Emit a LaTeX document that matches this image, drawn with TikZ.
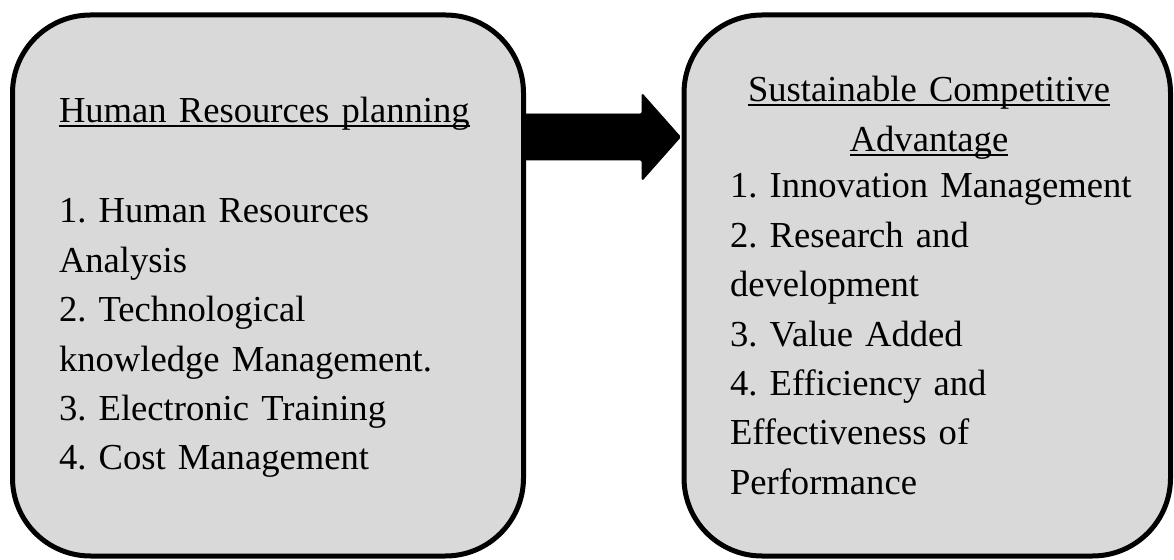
\documentclass[tikz,border=0pt]{standalone}
\usepackage{fontspec}
\setmainfont{Liberation Serif}
\usetikzlibrary{calc}
\definecolor{panelgray}{HTML}{D9D9D9}
\newsavebox\myulbox
\newcommand\myul[1]{\leavevmode\hbox{\sbox\myulbox{#1}\rlap{\rule[-4.5pt]{\wd\myulbox}{2.2pt}}\usebox\myulbox}}
\tikzset{
  panel/.style={draw=black, line width=5pt, fill=panelgray, rounded corners=78pt, outer sep=0pt, inner sep=0pt},
  txt/.style={font=\fontsize{36.6}{49.4}\selectfont\frenchspacing, inner sep=0pt, outer sep=0pt, align=left, text width=470pt},
  bigarrow/.style={fill=black, draw=black, line width=0.8pt, rounded corners=1.5pt}
}
\begin{document}
\begin{tikzpicture}[x=1pt,y=1pt]
\useasboundingbox (0,0) rectangle (1174,559);
\node[panel, minimum width=511pt, minimum height=541pt] (L) at (268,273.5) {};
\node[panel, minimum width=486.5pt, minimum height=541pt] (R) at (927.25,273.5) {};
% left texts
\node[txt, anchor=base west] (lh) at (59,436) {\myul{Human Resources planning}};
\node[txt, anchor=base west] (li) at (59,336) {1. Human Resources\\Analysis\\2. Technological\\knowledge Management.\\3. Electronic Training\\4. Cost Management};
% right texts
\node[txt, anchor=base, align=center, text width=480pt] (rh) at (929,457) {\myul{Sustainable Competitive}\\\myul{Advantage}};
\node[txt, anchor=base west, text width=440pt] (ri) at (730,361) {1. Innovation Management\\2. Research and\\development\\3. Value Added\\4. Efficiency and\\Effectiveness of\\Performance};
% arrow
\coordinate (ay) at (0,422);
\coordinate (s) at (L.east |- ay);
\coordinate (t) at (R.west |- ay);
\fill[bigarrow] ($(s)+(0,23)$) -- ($(t)+(-42,23)$) -- ($(t)+(-42,43.5)$) -- ($(t)+(-3.5,0)$) -- ($(t)+(-42,-43.5)$) -- ($(t)+(-42,-23)$) -- ($(s)+(0,-23)$) -- cycle;
\end{tikzpicture}
\end{document}
